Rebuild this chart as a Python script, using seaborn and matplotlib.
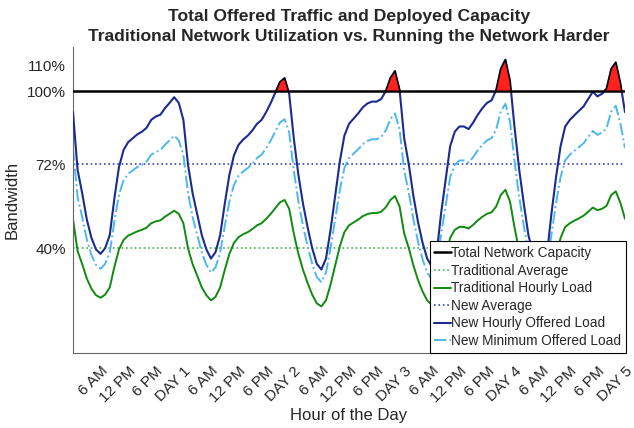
import seaborn as sns
import matplotlib
matplotlib.use("Agg")
import matplotlib.pyplot as plt
import numpy as np

# hours 0..120 (5 days, hourly)
hours = list(range(0, 121))

# New Hourly Offered Load (% of capacity)
new_hourly = [
    92, 70, 61, 51, 44, 39.5, 37.8, 40, 45, 59, 71, 77.5, 80.5, 82, 83.5, 84.5,
    86, 89, 90.3, 91, 93.5, 95.5, 97.7, 95.5, 89,
    72, 61, 53, 45, 39.5, 36, 38.5, 45, 57, 68, 75.5, 79.5, 81.5, 83, 85, 87.5,
    89, 92, 95.5, 99.5, 103.5, 105, 99, 82,
    68, 57, 48, 40, 34, 31.8, 36, 47, 60, 73, 83, 87.5, 89.5, 91.5, 93.8, 95.3,
    96, 96, 97, 100, 105, 107.7, 100.5, 82,
    72, 60, 50, 42, 36, 33, 37, 53, 66, 79, 84.5, 86.5, 86.5, 85.5, 88, 91,
    93.5, 95.5, 96.5, 100.5, 108.5, 112, 104, 86,
    70, 57, 45, 38, 34, 32.5, 37, 53, 67, 79, 86.5, 89, 90.8, 92.5, 94.2, 97,
    99.8, 98, 99, 101, 108.5, 111, 103, 92,
]

# New Minimum Offered Load
new_minimum = [
    78.2, 59.5, 51.9, 43.4, 37.4, 33.6, 32.1, 34.0, 38.3, 50.2, 60.4, 65.9, 68.4,
    69.7, 71.0, 71.8, 73.1, 75.7, 76.8, 77.4, 79.5, 81.2, 83.0, 81.2, 75.7,
    61.2, 51.9, 45.1, 38.3, 33.6, 30.6, 32.7, 38.3, 48.5, 57.8, 64.2, 67.6, 69.3,
    70.6, 72.3, 74.4, 75.7, 78.2, 81.2, 84.6, 88.0, 89.3, 84.2, 69.7,
    57.8, 48.5, 40.8, 34.0, 28.9, 27.0, 30.6, 40.0, 51.0, 62.1, 70.6, 74.4, 76.1,
    77.8, 79.7, 81.0, 81.6, 81.6, 82.5, 85.0, 89.3, 91.5, 85.4, 69.7,
    61.2, 51.0, 42.5, 35.7, 30.6, 28.1, 31.5, 45.1, 56.1, 67.2, 71.8, 73.5, 73.5,
    72.7, 74.8, 77.4, 79.5, 81.2, 82.0, 85.4, 92.2, 95.2, 88.4, 73.1,
    59.5, 48.5, 38.3, 32.3, 28.9, 27.6, 31.5, 45.1, 57.0, 67.2, 73.5, 75.7, 77.2,
    78.6, 80.1, 82.5, 84.8, 83.3, 84.2, 85.9, 92.2, 94.4, 87.6, 78.2,
]

# Traditional Hourly Load
trad_hourly = [
    51.2, 38.9, 33.9, 28.4, 24.5, 22.0, 21.0, 22.2, 25.0, 32.8, 39.5, 43.1, 44.8,
    45.6, 46.4, 47.0, 47.8, 49.5, 50.2, 50.6, 52.0, 53.1, 54.3, 53.1, 49.5,
    40.0, 33.9, 29.5, 25.0, 22.0, 20.0, 21.4, 25.0, 31.7, 37.8, 42.0, 44.2, 45.3,
    46.1, 47.3, 48.7, 49.5, 51.2, 53.1, 55.3, 57.5, 58.4, 55.0, 45.6,
    37.8, 31.7, 26.7, 22.2, 18.9, 17.7, 20.0, 26.1, 33.4, 40.6, 46.1, 48.7, 49.8,
    50.9, 52.2, 53.0, 53.4, 53.4, 53.9, 55.6, 58.4, 59.9, 55.9, 45.6,
    40.0, 33.4, 27.8, 23.4, 20.0, 18.3, 20.6, 29.5, 36.7, 43.9, 47.0, 48.1, 48.1,
    47.5, 48.9, 50.6, 52.0, 53.1, 53.7, 55.9, 60.3, 62.3, 57.8, 47.8,
    38.9, 31.7, 25.0, 21.1, 18.9, 18.1, 20.6, 29.5, 37.3, 43.9, 48.1, 49.5, 50.5,
    51.4, 52.4, 53.9, 55.5, 54.5, 55.0, 56.2, 60.3, 61.7, 57.3, 51.2,
]

capacity = 100
trad_average = 40
new_average = 72

tick_hours = list(range(6, 121, 6))
tick_labels = ["6 AM", "12 PM", "6 PM", "DAY 1", "6 AM", "12 PM", "6 PM", "DAY 2",
               "6 AM", "12 PM", "6 PM", "DAY 3", "6 AM", "12 PM", "6 PM", "DAY 4",
               "6 AM", "12 PM", "6 PM", "DAY 5"]
y_ticks = [40, 72, 100, 110]
y_tick_labels = ["40%", "72%", "100%", "110%"]

sns.set_style("white")
plt.rcParams["font.family"] = ["Liberation Sans", "DejaVu Sans"]

fig = plt.figure(figsize=(6.34, 4.28), dpi=100)
ax = fig.add_axes([0.1151, 0.1759, 0.8707, 0.7150])

ax.axhline(capacity, color="black", lw=1.8, label="Total Network Capacity", zorder=4)
ax.axhline(trad_average, color="#4caf50", lw=1.2, ls=":", label="Traditional Average")
sns.lineplot(x=hours, y=trad_hourly, ax=ax, color="#108a10", lw=1.4,
             label="Traditional Hourly Load")
ax.axhline(new_average, color="#3347b0", lw=1.2, ls=":", label="New Average")
sns.lineplot(x=hours, y=new_hourly, ax=ax, color="#1c2b8e", lw=1.5,
             label="New Hourly Offered Load", zorder=3)
sns.lineplot(x=hours, y=new_minimum, ax=ax, color="#4db8ec", lw=1.4,
             linestyle="-.", label="New Minimum Offered Load", zorder=2)

# red area where the offered load runs above capacity
nh = np.array(new_hourly)
ax.fill_between(hours, capacity, nh, where=nh > capacity, interpolate=True,
                facecolor="#ff2020", edgecolor="black", lw=1.0, zorder=5)

ax.set_xlim(0, 120)
ax.set_ylim(0, 117)
ax.set_xticks(tick_hours)
ax.set_xticklabels(tick_labels, rotation=45, ha="right", va="top",
                   rotation_mode="anchor")
ax.set_yticks(y_ticks)
ax.set_yticklabels(y_tick_labels)
ax.tick_params(axis="both", direction="in", length=5, width=0.8,
               color="#555555", labelcolor="#262626", labelsize=11)
ax.tick_params(axis="x", pad=8)
ax.tick_params(axis="y", pad=5)

for side in ["top", "right"]:
    ax.spines[side].set_visible(False)
for side in ["left", "bottom"]:
    ax.spines[side].set_color("#666666")
    ax.spines[side].set_linewidth(0.8)

ax.set_xlabel("Hour of the Day", fontsize=12, color="#262626", labelpad=2)
ax.set_ylabel("Bandwidth", fontsize=12, color="#262626", labelpad=5)
ax.set_title("Total Offered Traffic and Deployed Capacity\n"
             "Traditional Network Utilization vs. Running the Network Harder",
             fontsize=12.6, fontweight="bold", linespacing=1.4, pad=4)

leg = ax.legend(loc="lower right", bbox_to_anchor=(1.002, 0.0), borderaxespad=0,
                fontsize=9.8, frameon=True, fancybox=False, framealpha=1,
                edgecolor="black", handlelength=1.2, handletextpad=0.05,
                labelspacing=0.26, borderpad=0.35)
leg.get_frame().set_linewidth(0.8)
leg.set_zorder(10)

fig.savefig("out.png", dpi=100)
